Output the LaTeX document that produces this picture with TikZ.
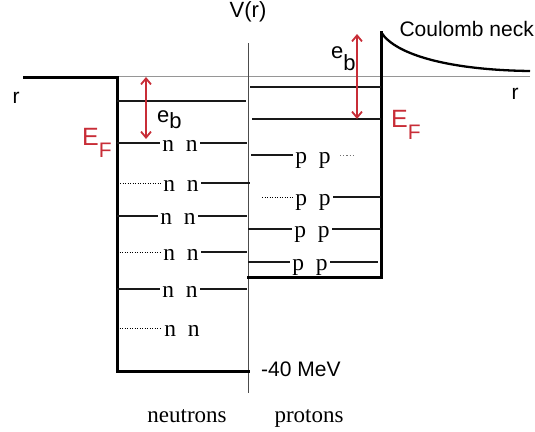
\documentclass[tikz,border=0pt]{standalone}
\usepackage{fontspec}
\setmainfont{Liberation Serif}
\newfontfamily\labfont{Liberation Sans}
\usetikzlibrary{arrows.meta}
\definecolor{efred}{RGB}{200,45,55}
\definecolor{zerogray}{RGB}{150,150,150}
\newcommand{\nn}{n\hspace{0.5em}n}
\newcommand{\pp}{p\hspace{0.5em}p}
\begin{document}
\begin{tikzpicture}[x=1pt,y=-1pt,
  wall/.style={line width=3pt, line cap=rect},
  neck/.style={line width=2.3pt},
  lvl/.style={line width=1.3pt, draw=black!90},
  dlvl/.style={line width=0.9pt, dash pattern=on 1.4pt off 1.1pt, draw=black},
  axis/.style={line width=0.9pt, draw=black!70},
  zero/.style={line width=1pt, draw=zerogray},
  nuc/.style={font=\fontsize{23.5}{23.5}\selectfont, inner xsep=2.5pt, inner ysep=0pt, text height=17pt, text depth=0pt},
  lab/.style={font=\labfont\fontsize{21}{21}\selectfont, inner sep=0pt},
  eflab/.style={font=\labfont, text=efred, inner sep=0pt},
  eblab/.style={font=\labfont\fontsize{22}{22}\selectfont, inner sep=0pt},
  ebarrow/.style={draw=efred, line width=1.8pt, {Straight Barb[length=6pt,width=10pt]}-{Straight Barb[length=6pt,width=10pt]}}
]
\useasboundingbox (0,0) rectangle (535,431);

% coordinates
\coordinate (lt) at (24,77);
\coordinate (lwt) at (117,77);
\coordinate (lwb) at (117,371);
\coordinate (axb) at (248,371);
\coordinate (axtop) at (248,43);
\coordinate (axbot) at (248,393);
\coordinate (rwb) at (381,277);
\coordinate (pb) at (248,277);
\coordinate (rwt) at (381,32);
\coordinate (neckend) at (530,71);
\coordinate (z0) at (117,76);
\coordinate (z1) at (530,76);

% zero line and axis
\draw[zero] (z0) -- (z1);
\draw[axis] (axtop) -- (axbot);

% wells
\draw[wall] (lt) -- (lwt) -- (lwb) -- (axb);
\draw[wall] (pb) -- (rwb) -- (rwt);
\draw[neck] (rwt) .. controls (395,55) and (450,70) .. (neckend);

% top levels
\coordinate (nt0) at (117,101); \coordinate (nt1) at (246,101);
\draw[lvl] (nt0) -- (nt1);
\coordinate (pt0) at (250,87); \coordinate (pt1) at (381,87);
\draw[lvl] (pt0) -- (pt1);
\coordinate (pf0) at (252,119); \coordinate (pf1) at (381,119);
\draw[lvl] (pf0) -- (pf1);

% neutron rows
\node[nuc] (n1) at (180,143) {\nn};
\coordinate (n1l) at (117,143); \coordinate (n1r) at (247,143);
\draw[lvl] (n1l) -- (n1.west); \draw[lvl] (n1.east) -- (n1r);

\node[nuc] (n2) at (181,183) {\nn};
\coordinate (n2l) at (120,183); \coordinate (n2r) at (250,183);
\draw[dlvl] (n2l) -- (n2.west); \draw[lvl] (n2.east) -- (n2r);

\node[nuc] (n3) at (178,216) {\nn};
\coordinate (n3l) at (117,216); \coordinate (n3r) at (247,216);
\draw[lvl] (n3l) -- (n3.west); \draw[lvl] (n3.east) -- (n3r);

\node[nuc] (n4) at (181,252) {\nn};
\coordinate (n4l) at (117,252); \coordinate (n4r) at (247,252);
\draw[dlvl] (n4l) -- (n4.west); \draw[lvl] (n4.east) -- (n4r);

\node[nuc] (n5) at (180,289) {\nn};
\coordinate (n5l) at (117,289); \coordinate (n5r) at (247,289);
\draw[lvl] (n5l) -- (n5.west); \draw[lvl] (n5.east) -- (n5r);

\node[nuc] (n6) at (182,328) {\nn};
\coordinate (n6l) at (117,328);
\draw[dlvl] (n6l) -- (n6.west);

% proton rows
\node[nuc] (p1) at (313,155) {\pp};
\coordinate (p1l) at (251,155); \coordinate (p1d0) at (340,155); \coordinate (p1d1) at (353,155);
\draw[lvl] (p1l) -- (p1.west); \draw[dlvl, draw=black!55, dash pattern=on 1.2pt off 2pt] (p1d0) -- (p1d1);

\node[nuc] (p2) at (313,197) {\pp};
\coordinate (p2l) at (262,197); \coordinate (p2r) at (381,197);
\draw[dlvl] (p2l) -- (p2.west); \draw[lvl] (p2.east) -- (p2r);

\node[nuc] (p3) at (312,229) {\pp};
\coordinate (p3l) at (248,229); \coordinate (p3r) at (381,229);
\draw[lvl] (p3l) -- (p3.west); \draw[lvl] (p3.east) -- (p3r);

\node[nuc] (p4) at (310,262) {\pp};
\coordinate (p4l) at (248,262); \coordinate (p4r) at (378,262);
\draw[lvl] (p4l) -- (p4.west); \draw[lvl] (p4.east) -- (p4r);

% e_b arrows
\coordinate (eba) at (146,77); \coordinate (ebb) at (146,139);
\draw[ebarrow] (eba) -- (ebb);
\coordinate (eca) at (357,34); \coordinate (ecb) at (357,119);
\draw[ebarrow] (eca) -- (ecb);

% labels
\node[lab, anchor=base, font=\labfont\fontsize{22}{22}\selectfont] (vr) at (248,17) {V(r)};
\node[lab, anchor=base east] (cn) at (534,36) {Coulomb neck};
\node[lab, anchor=base] (rl) at (16,103) {r};
\node[lab, anchor=base] (rr) at (515,99) {r};
\node[lab, anchor=base west] (mev) at (261,376) {-40 MeV};
\node[anchor=base, inner sep=0pt, font=\fontsize{23}{23}\selectfont] (neu) at (187,422) {neutrons};
\node[anchor=base, inner sep=0pt, font=\fontsize{23}{23}\selectfont] (pro) at (309,422) {protons};

\node[eflab, anchor=base west] (efl) at (82,145) {{\fontsize{25}{25}\selectfont E}\raisebox{-12pt}{\fontsize{21}{21}\selectfont F}};
\node[eflab, anchor=base west] (efr) at (391,127) {{\fontsize{25}{25}\selectfont E}\raisebox{-12pt}{\fontsize{21}{21}\selectfont F}};

\node[eblab, anchor=base west] (ebl) at (157,122) {e\raisebox{-6pt}{b}};
\node[eblab, anchor=base west] (ebr) at (331,58) {e\raisebox{-12pt}{b}};
\end{tikzpicture}
\end{document}
